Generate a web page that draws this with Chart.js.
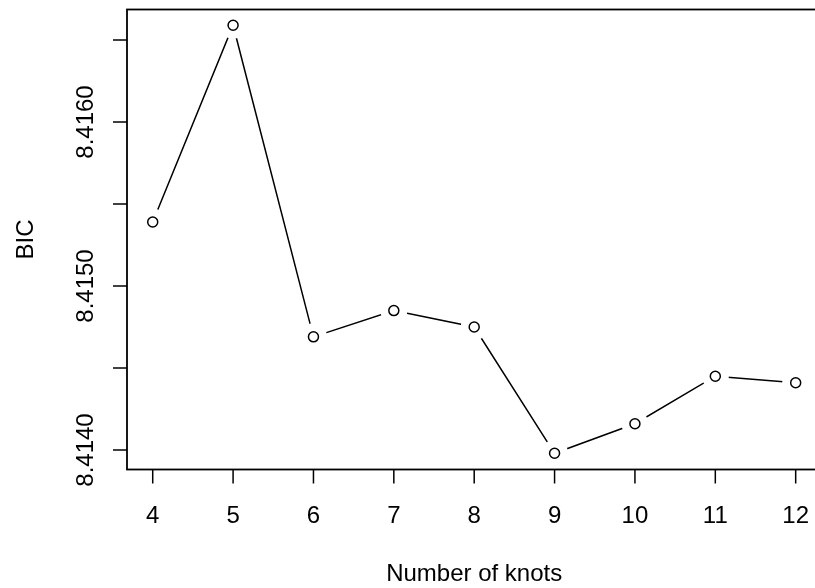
<!DOCTYPE html>
<html>
<head>
<meta charset="utf-8">
<script src="https://cdn.jsdelivr.net/npm/chart.js@4"></script>
<style>
html, body { margin: 0; padding: 0; background: #fff; overflow: hidden; }
#wrap { width: 815px; height: 588px; overflow: hidden; position: relative; }
canvas { display: block; }
</style>
</head>
<body>
<div id="wrap"><canvas id="c" width="830" height="588"></canvas></div>
<script>
// ---- data ----
const knots = [4, 5, 6, 7, 8, 9, 10, 11, 12];
const bic = [8.41539, 8.41659, 8.41469, 8.41485, 8.41475, 8.41398, 8.41416, 8.41445, 8.41441];
const xTicks = [4, 5, 6, 7, 8, 9, 10, 11, 12];
const yTicks = [8.4140, 8.4145, 8.4150, 8.4155, 8.4160, 8.4165];
const yTickLabels = ['8.4140', '', '8.4150', '', '8.4160', ''];
const xTitle = 'Number of knots';
const yTitle = 'BIC';

const FONT = '24px "Liberation Sans", Arial, sans-serif';

const points = knots.map((k, i) => ({ x: k, y: bic[i] }));

const rAxes = {
  id: 'rAxes',
  afterDraw(chart) {
    const ctx = chart.ctx;
    const xs = chart.scales.x, ys = chart.scales.y;
    const a = chart.chartArea;
    ctx.save();
    ctx.strokeStyle = '#000';
    ctx.fillStyle = '#000';
    // box
    ctx.lineWidth = 1.8;
    ctx.strokeRect(a.left, a.top, a.right - a.left, a.bottom - a.top);
    // x ticks
    ctx.lineWidth = 1.5;
    ctx.font = FONT;
    ctx.textAlign = 'center';
    ctx.textBaseline = 'alphabetic';
    xTicks.forEach(v => {
      const px = xs.getPixelForValue(v);
      ctx.beginPath();
      ctx.moveTo(px, a.bottom);
      ctx.lineTo(px, a.bottom + 14);
      ctx.stroke();
      ctx.fillText(String(v), px, 522.7);
    });
    // y ticks
    yTicks.forEach((v, i) => {
      const py = ys.getPixelForValue(v);
      ctx.beginPath();
      ctx.moveTo(a.left, py);
      ctx.lineTo(a.left - 14, py);
      ctx.stroke();
      if (yTickLabels[i]) {
        ctx.save();
        ctx.translate(93.3, py);
        ctx.rotate(-Math.PI / 2);
        ctx.fillText(yTickLabels[i], 0, 0);
        ctx.restore();
      }
    });
    // titles
    ctx.fillText(xTitle, (a.left + a.right) / 2, 580.7);
    ctx.save();
    ctx.translate(33.3, (a.top + a.bottom) / 2);
    ctx.rotate(-Math.PI / 2);
    ctx.fillText(yTitle, 0, 0);
    ctx.restore();
    ctx.restore();
  }
};

new Chart(document.getElementById('c'), {
  type: 'scatter',
  data: {
    datasets: [
      { // open circles (top)
        data: points,
        showLine: false,
        pointRadius: 5,
        pointHoverRadius: 5,
        pointBorderWidth: 1.5,
        pointBorderColor: '#000',
        pointBackgroundColor: 'rgba(0,0,0,0)'
      },
      { // gap mask around points (type = "b")
        data: points,
        showLine: false,
        pointRadius: 13.5,
        pointHoverRadius: 13.5,
        pointBorderWidth: 0,
        pointBorderColor: '#fff',
        pointBackgroundColor: '#fff'
      },
      { // connecting line
        data: points,
        showLine: true,
        borderColor: '#000',
        borderWidth: 1.5,
        pointRadius: 0,
        pointHoverRadius: 0,
        fill: false,
        tension: 0
      }
    ]
  },
  options: {
    responsive: false,
    devicePixelRatio: 1,
    animation: false,
    events: [],
    layout: { autoPadding: false, padding: { left: 127, right: 8.6, top: 9.5, bottom: 118.5 } },
    plugins: { legend: { display: false }, tooltip: { enabled: false } },
    scales: {
      x: { type: 'linear', display: false, min: 3.68, max: 12.32 },
      y: { type: 'linear', display: false, min: 8.4138811, max: 8.416686 }
    }
  },
  plugins: [rAxes]
});
</script>
</body>
</html>
